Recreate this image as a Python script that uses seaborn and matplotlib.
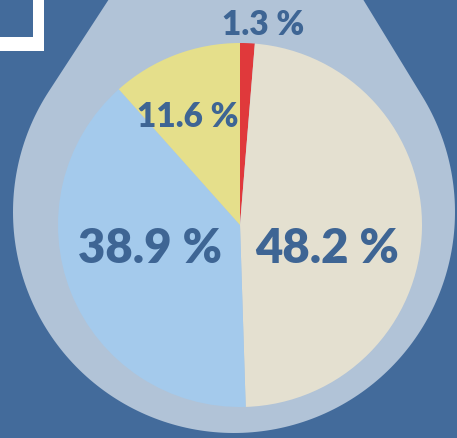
import numpy as np
import matplotlib.pyplot as plt
import seaborn as sns
from matplotlib.patches import Polygon, Rectangle

sns.set_style("white")
plt.rcParams['font.family'] = ['Lato', 'DejaVu Sans']

# slice data, clockwise from 12 o'clock
shares = [1.3, 48.2, 38.9, 11.6]
slice_labels = ["1.3 %", "48.2 %", "38.9 %", "11.6 %"]
slice_colors = sns.color_palette(["#e0393b", "#e4e0d0", "#a4caec", "#e5df8b"])

bg = "#436b9b"
ring = "#b1c3d7"
txt = "#3e6594"

fig = plt.figure(figsize=(4.57, 4.39), dpi=100)
fig.patch.set_facecolor(bg)
ax = fig.add_axes([0, 0, 1, 1])
ax.set_facecolor(bg)

# teardrop behind the pie: circle plus two tangents to a tip above the frame
cx, cy, r = 234, 226, 221
tip = np.array([240, 640])
d = np.hypot(tip[0] - cx, tip[1] - cy)
a = np.arccos(r / d)
base = np.arctan2(tip[1] - cy, tip[0] - cx)
t = np.linspace(base + a, base + 2 * np.pi - a, 200)
pts = np.column_stack([cx + r * np.cos(t), cy + r * np.sin(t)])
pts = np.vstack([tip, pts])
ax.add_patch(Polygon(pts, closed=True, facecolor=ring, edgecolor="none", zorder=1))

# white corner bracket
ax.add_patch(Rectangle((33, 387), 11, 52, facecolor="white", edgecolor="none", zorder=2))
ax.add_patch(Rectangle((0, 387), 44, 14, facecolor="white", edgecolor="none", zorder=2))

wedges, texts = ax.pie(shares, colors=slice_colors, startangle=90, counterclock=False,
                       center=(240, 213), radius=182, frame=True,
                       wedgeprops=dict(linewidth=0, zorder=3))
ax.set_xlim(0, 457)
ax.set_ylim(0, 439)
ax.set_aspect("equal")
ax.axis("off")

label_pos = [(263, 414, 24), (327, 190, 34), (150, 190, 34), (188, 322, 24)]
for lab, (x, y, s) in zip(slice_labels, label_pos):
    ax.text(x, y, lab, ha="center", va="center", fontsize=s, fontweight="heavy",
            color=txt, zorder=4)

fig.savefig("out.png", dpi=100, facecolor=bg)
